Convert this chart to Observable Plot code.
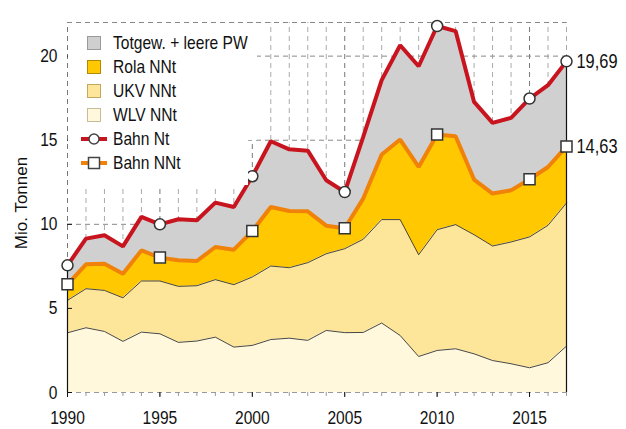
<!DOCTYPE html>
<html><head><meta charset="utf-8">
<script src="https://cdn.jsdelivr.net/npm/d3@7"></script>
<script src="https://cdn.jsdelivr.net/npm/@observablehq/plot@0.6"></script>
<style>
body{margin:0;background:#fff;}
#wrap{position:relative;width:626px;height:429px;font-family:'Liberation Sans',Arial,sans-serif;color:#111;}
#wrap svg{position:absolute;left:0;top:0;overflow:visible;}
.cover{position:absolute;background:#fff;}
#legend{position:absolute;left:81px;top:31px;}
.row{display:flex;align-items:center;height:24px;font-size:19px;white-space:nowrap;}
.row span{display:inline-block;transform:scaleX(0.82);transform-origin:left center;}
.sym{width:26px;height:24px;display:flex;align-items:center;justify-content:center;margin-right:6px;}
.sw{width:14px;height:14px;box-sizing:border-box;}
#ylab{position:absolute;left:22px;top:203px;transform:translate(-50%,-50%) rotate(-90deg);font-family:'Liberation Sans',Arial,sans-serif;font-size:17px;white-space:nowrap;}
</style></head><body><div id="wrap"></div>
<script>
const years = [1990,1991,1992,1993,1994,1995,1996,1997,1998,1999,2000,2001,2002,2003,2004,2005,2006,2007,2008,2009,2010,2011,2012,2013,2014,2015,2016,2017];
// Bahn Nt (total incl. Totgewicht + leere PW)
const bahnNt  = [7.56,9.15,9.35,8.69,10.44,10.0,10.3,10.24,11.29,11.03,12.86,14.94,14.46,14.38,12.62,11.92,15.2,18.57,20.65,19.4,21.79,21.49,17.28,16.03,16.33,17.48,18.27,19.69];
// Bahn NNt (WLV + UKV + Rola)
const bahnNNt = [6.43,7.62,7.66,7.06,8.45,8.02,7.86,7.82,8.65,8.49,9.6,11.03,10.79,10.77,9.92,9.77,11.53,14.15,15.04,13.41,15.34,15.24,12.66,11.83,12.02,12.68,13.41,14.63];
// WLV NNt
const wlv = [3.55,3.85,3.63,3.04,3.59,3.49,2.98,3.06,3.29,2.70,2.80,3.15,3.23,3.10,3.69,3.56,3.57,4.13,3.39,2.14,2.50,2.60,2.30,1.90,1.71,1.47,1.77,2.76];
// UKV NNt
const ukv = [1.93,2.32,2.44,2.59,3.04,3.14,3.33,3.29,3.42,3.71,4.07,4.37,4.19,4.62,4.56,4.99,5.54,6.15,6.89,6.05,7.18,7.38,7.08,6.81,7.24,7.78,8.17,8.51];
const markerYears = [1990,1995,2000,2005,2010,2015,2017];
const xTicks = [1990,1995,2000,2005,2010,2015];
const yTicks = [0,5,10,15,20];
const yGrid = [5,10,15,20,22];
const endLabels = ["19,69","14,63"];
const legendItems = [
  {label:"Totgew. + leere PW", type:"box", fill:"#cfcfcf", stroke:"#9a9a9a"},
  {label:"Rola NNt", type:"box", fill:"#ffc800", stroke:"#b08a00"},
  {label:"UKV NNt", type:"box", fill:"#fde59a", stroke:"#c4a860"},
  {label:"WLV NNt", type:"box", fill:"#fff8dc", stroke:"#c8bc98"},
  {label:"Bahn Nt", type:"line", stroke:"#c8141e", marker:"circle"},
  {label:"Bahn NNt", type:"line", stroke:"#f0820a", marker:"square"}
];

const rows = years.map((year,i)=>({year, wlv:wlv[i], ukvTop:wlv[i]+ukv[i], nnt:bahnNNt[i], nt:bahnNt[i]}));
const marked = rows.filter(r=>markerYears.includes(r.year));
const last = rows[rows.length-1];
const endRows = [{year:last.year, v:last.nt, t:endLabels[0]},{year:last.year, v:last.nnt, t:endLabels[1]}];
const edgeRows = [rows[0], last];

const chart = Plot.plot({
  width:626, height:429,
  marginTop:22, marginBottom:37, marginLeft:67, marginRight:60,
  style:{fontFamily:"'Liberation Sans',Arial,sans-serif", fontSize:"18px", color:"#111", background:"transparent"},
  x:{domain:[1990,2017], label:null},
  y:{domain:[0,22], label:null},
  marks:[
    Plot.ruleX(years,{x:d=>d, y1:0, y2:22, stroke:d=>d%5===0?"#777":"#aaa", strokeDasharray:"5,4", strokeWidth:1}),
    Plot.ruleY(yGrid,{y:d=>d, stroke:"#888", strokeDasharray:"5,4", strokeWidth:1}),
    Plot.areaY(rows,{x:"year", y1:0, y2:"wlv", fill:"#fff8dc"}),
    Plot.areaY(rows,{x:"year", y1:"wlv", y2:"ukvTop", fill:"#fde59a"}),
    Plot.areaY(rows,{x:"year", y1:"ukvTop", y2:"nnt", fill:"#ffc800"}),
    Plot.areaY(rows,{x:"year", y1:"nnt", y2:"nt", fill:"#d0d0d0"}),
    Plot.lineY(rows,{x:"year", y:"wlv", stroke:"#333", strokeWidth:0.9}),
    Plot.lineY(rows,{x:"year", y:"ukvTop", stroke:"#333", strokeWidth:0.9}),
    Plot.ruleY([0],{stroke:"#999", strokeDasharray:"5,4"}),
    Plot.ruleX(edgeRows,{x:"year", y1:0, y2:"nt", stroke:"#111", strokeWidth:1.2}),
    Plot.lineY(rows,{x:"year", y:"nnt", stroke:"#f0820a", strokeWidth:4, strokeLinejoin:"miter"}),
    Plot.lineY(rows,{x:"year", y:"nt", stroke:"#c8141e", strokeWidth:4, strokeLinejoin:"miter"}),
    Plot.dot(marked,{x:"year", y:"nnt", symbol:"square", r:6.2, fill:"#fff", stroke:"#333", strokeWidth:1.5}),
    Plot.dot(marked,{x:"year", y:"nt", symbol:"circle", r:5.5, fill:"#fff", stroke:"#333", strokeWidth:1.5}),
    Plot.text(endRows,{x:"year", y:"v", text:"t", textAnchor:"start", dx:10, fontSize:20, fill:"#111"}),
    Plot.axisX({ticks:years, tickSize:4, tickFormat:()=>"", stroke:"#999", label:null}),
    Plot.axisX({ticks:xTicks, tickFormat:d=>String(d), tickSize:5, tickPadding:13, fontSize:19, label:null}),
    Plot.axisY({ticks:yTicks, tickSize:-5, tickPadding:15, fontSize:19, label:null})
  ]
});

// condense text horizontally (narrow sans look) around each text's anchor
chart.querySelectorAll("text").forEach(t=>{
  const tr = t.getAttribute("transform");
  if (tr && tr.includes("translate")) t.setAttribute("transform", tr + " scale(0.82,1)");
});

const wrap = document.getElementById("wrap");
wrap.appendChild(chart);
for (const [l,t,w,h] of [[68,23,189,117],[68,140,180,45]]) {
  const c = document.createElement("div"); c.className="cover";
  Object.assign(c.style,{left:l+"px",top:t+"px",width:w+"px",height:h+"px"});
  wrap.appendChild(c);
}
const lg = document.createElement("div"); lg.id="legend";
for (const it of legendItems) {
  const r = document.createElement("div"); r.className="row";
  const s = document.createElement("div"); s.className="sym";
  if (it.type==="box") {
    const b = document.createElement("div"); b.className="sw";
    b.style.background=it.fill; b.style.border="1px solid "+it.stroke;
    s.appendChild(b);
  } else {
    const m = it.marker==="circle"
      ? `<circle cx="13" cy="7" r="5" fill="#fff" stroke="#444" stroke-width="1.5"/>`
      : `<rect x="7.5" y="1.5" width="11" height="11" fill="#fff" stroke="#444" stroke-width="1.5"/>`;
    s.innerHTML = `<svg width="26" height="14" style="position:static"><line x1="0" y1="7" x2="26" y2="7" stroke="${it.stroke}" stroke-width="4"/>${m}</svg>`;
  }
  const t = document.createElement("span"); t.textContent = it.label;
  r.appendChild(s); r.appendChild(t); lg.appendChild(r);
}
wrap.appendChild(lg);
const yl = document.createElement("div"); yl.id="ylab"; yl.textContent="Mio. Tonnen";
wrap.appendChild(yl);
</script>
</body></html>
